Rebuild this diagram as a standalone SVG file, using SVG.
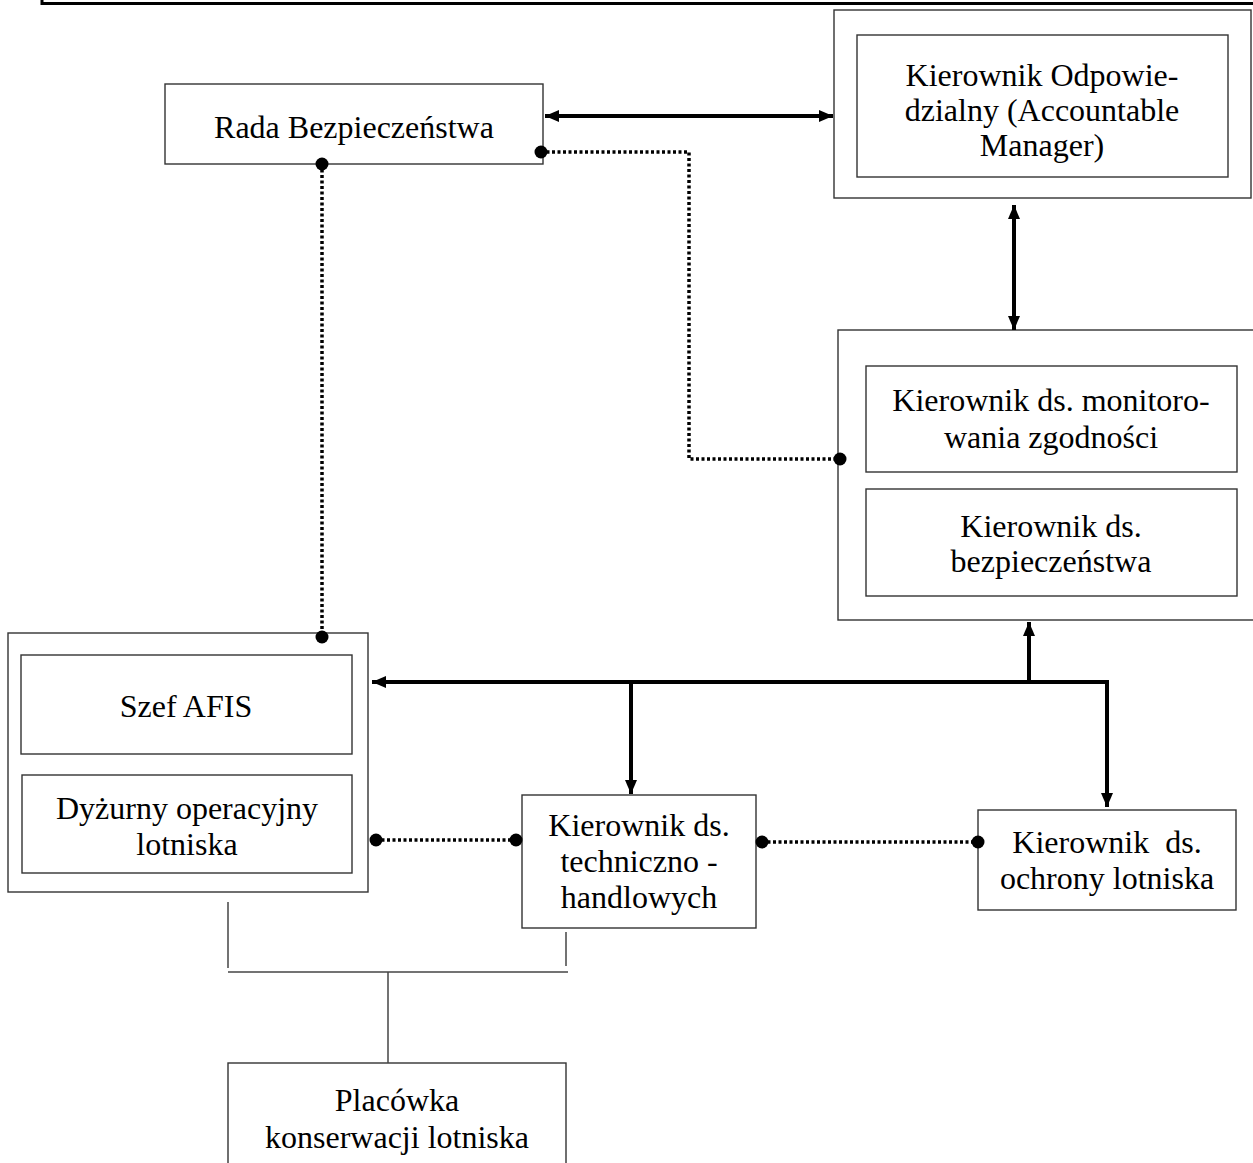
<svg xmlns="http://www.w3.org/2000/svg" width="1253" height="1163" viewBox="0 0 1253 1163">
  <style>
    .box { fill: #fff; stroke: #333; stroke-width: 1.4; }
    .lbl { font-family: "Liberation Serif", "Times New Roman", serif; font-size: 32px; fill: #000; text-anchor: middle; }
    .solid { fill: none; stroke: #000; stroke-width: 4; }
    .dotted { fill: none; stroke: #000; stroke-width: 3.5; stroke-dasharray: 3 2.5; }
    .thin { fill: none; stroke: #444; stroke-width: 1.5; }
    .dot { fill: #000; }
  </style>
  <defs>
    <marker id="arrow" viewBox="0 0 14 12" refX="14" refY="6" markerWidth="14" markerHeight="12" markerUnits="userSpaceOnUse" orient="auto-start-reverse">
      <path d="M0,0 L14,6 L0,12 Z" fill="#000"/>
    </marker>
  </defs>

  <!-- page frame edge -->
  <path d="M42,0 V3.5 H1253" fill="none" stroke="#000" stroke-width="3"/>

  <g id="rada-bezpieczenstwa">
    <rect class="box" x="165" y="84" width="378" height="80"/>
    <text class="lbl" x="354" y="138">Rada Bezpieczeństwa</text>
  </g>

  <g id="kierownik-odpowiedzialny">
    <rect class="box" x="834" y="10" width="417" height="188"/>
    <rect class="box" x="857" y="35" width="371" height="142"/>
    <text class="lbl" x="1042" y="86">Kierownik Odpowie-</text>
    <text class="lbl" x="1042" y="121">dzialny (Accountable</text>
    <text class="lbl" x="1042" y="156">Manager)</text>
  </g>

  <g id="kierownicy-zgodnosc-bezpieczenstwo">
    <rect class="box" x="838" y="330" width="420" height="290"/>
    <rect class="box" x="866" y="366" width="371" height="106"/>
    <text class="lbl" x="1051" y="411">Kierownik ds. monitoro-</text>
    <text class="lbl" x="1051" y="448">wania zgodności</text>
    <rect class="box" x="866" y="489" width="371" height="107"/>
    <text class="lbl" x="1051" y="537">Kierownik ds.</text>
    <text class="lbl" x="1051" y="572">bezpieczeństwa</text>
  </g>

  <g id="szef-afis-dyzurny">
    <rect class="box" x="8" y="633" width="360" height="259"/>
    <rect class="box" x="21" y="655" width="331" height="99"/>
    <text class="lbl" x="186" y="717">Szef AFIS</text>
    <rect class="box" x="22" y="775" width="330" height="98"/>
    <text class="lbl" x="187" y="819">Dyżurny operacyjny</text>
    <text class="lbl" x="187" y="855">lotniska</text>
  </g>

  <g id="kierownik-techniczno-handlowych">
    <rect class="box" x="522" y="795" width="234" height="133"/>
    <text class="lbl" x="639" y="836">Kierownik ds.</text>
    <text class="lbl" x="639" y="872">techniczno -</text>
    <text class="lbl" x="639" y="908">handlowych</text>
  </g>

  <g id="kierownik-ochrony">
    <rect class="box" x="978" y="810" width="258" height="100"/>
    <text class="lbl" x="1107" y="853" xml:space="preserve">Kierownik  ds.</text>
    <text class="lbl" x="1107" y="889">ochrony lotniska</text>
  </g>

  <g id="placowka-konserwacji">
    <rect class="box" x="228" y="1063" width="338" height="110"/>
    <text class="lbl" x="397" y="1111">Placówka</text>
    <text class="lbl" x="397" y="1148">konserwacji lotniska</text>
  </g>

  <g id="connectors">
    <!-- reporting lines -->
    <line class="solid" x1="545" y1="116" x2="833" y2="116" marker-start="url(#arrow)" marker-end="url(#arrow)"/>
    <line class="solid" x1="1014" y1="205" x2="1014" y2="330" marker-start="url(#arrow)" marker-end="url(#arrow)"/>
    <line class="solid" x1="1029" y1="682" x2="1029" y2="622" marker-end="url(#arrow)"/>
    <path class="solid" d="M1107,682 H372" marker-end="url(#arrow)"/>
    <path class="solid" d="M631,682 V794" marker-end="url(#arrow)"/>
    <path class="solid" d="M1107,680 V807" marker-end="url(#arrow)"/>

    <!-- consultation lines -->
    <path class="dotted" d="M541,152 H689 V459 H840"/>
    <circle class="dot" cx="541" cy="152" r="6.5"/>
    <circle class="dot" cx="840" cy="459" r="6.5"/>

    <path class="dotted" d="M322,164 V637"/>
    <circle class="dot" cx="322" cy="164" r="6.5"/>
    <circle class="dot" cx="322" cy="637" r="6.5"/>

    <path class="dotted" d="M376,840 H516"/>
    <circle class="dot" cx="376" cy="840" r="6.5"/>
    <circle class="dot" cx="516" cy="840" r="6.5"/>

    <path class="dotted" d="M762,842 H978"/>
    <circle class="dot" cx="762" cy="842" r="6.5"/>
    <circle class="dot" cx="978" cy="842" r="6.5"/>

    <!-- maintenance unit links -->
    <line class="thin" x1="228" y1="902" x2="228" y2="968"/>
    <line class="thin" x1="566" y1="932" x2="566" y2="966"/>
    <line class="thin" x1="228" y1="972" x2="568" y2="972"/>
    <line class="thin" x1="388" y1="972" x2="388" y2="1063"/>
  </g>
</svg>
